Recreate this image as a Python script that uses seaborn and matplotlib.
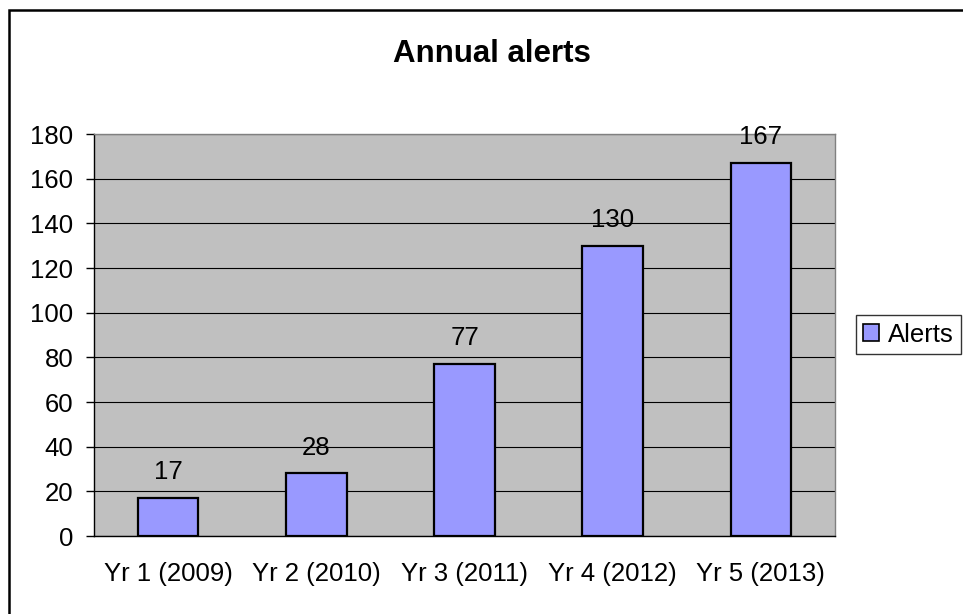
import matplotlib
matplotlib.use("Agg")
import matplotlib.pyplot as plt
from matplotlib.patches import Rectangle, Patch
import seaborn as sns
import pandas as pd

years = ["Yr 1 (2009)", "Yr 2 (2010)", "Yr 3 (2011)", "Yr 4 (2012)", "Yr 5 (2013)"]
alerts = [17, 28, 77, 130, 167]
y_ticks = [0, 20, 40, 60, 80, 100, 120, 140, 160, 180]
series_name = "Alerts"
title = "Annual alerts"

df = pd.DataFrame({"year": years, "alerts": alerts})

sns.set_style("white")
plt.rcParams["font.family"] = ["Liberation Sans", "DejaVu Sans"]
plt.rcParams["text.color"] = "black"
plt.rcParams["xtick.color"] = "black"
plt.rcParams["ytick.color"] = "black"
plt.rcParams["xtick.labelcolor"] = "black"
plt.rcParams["ytick.labelcolor"] = "black"

FS = 18.5

W, H = 963, 614
fig = plt.figure(figsize=(W / 100, H / 100), dpi=100)
ax = fig.add_axes([94 / W, (H - 536) / H, (835 - 94) / W, (536 - 134) / H])

bar_color = "#9999FF"
sns.barplot(data=df, x="year", y="alerts", ax=ax, color=bar_color,
            width=0.41, edgecolor="black", linewidth=1.6, saturation=1,
            zorder=3)

ax.set_facecolor("#C0C0C0")
ax.set_ylim(0, 180)
ax.set_xlim(-0.5, len(years) - 0.5)
ax.set_yticks(y_ticks)
ax.set_yticklabels([str(v) for v in y_ticks], fontsize=FS, color="black")
ax.yaxis.grid(True, color="black", linewidth=0.8, zorder=1)
ax.set_axisbelow(True)

# category labels centred, tick marks on the category boundaries
ax.set_xticks(range(len(years)))
ax.set_xticklabels(years, fontsize=FS, color="black")
ax.tick_params(axis="x", which="major", length=0, pad=19)
ax.set_xticks([i - 0.5 for i in range(len(years) + 1)], minor=True)
ax.tick_params(axis="x", which="minor", length=6, width=1, color="black",
               direction="out")
ax.tick_params(axis="y", length=6, width=1, color="black", direction="out",
               pad=9, left=True)
ax.set_xlabel("")
ax.set_ylabel("")

for side in ("left", "bottom"):
    ax.spines[side].set_color("black")
    ax.spines[side].set_linewidth(1.0)
for side in ("top", "right"):
    ax.spines[side].set_color("#808080")
    ax.spines[side].set_linewidth(1.0)
    ax.spines[side].set_visible(True)

for cont in ax.containers:
    ax.bar_label(cont, labels=[str(v) for v in alerts], padding=10,
                 fontsize=FS, color="black")

fig.text(492 / W, 1 - 54 / H, title, ha="center", va="center",
         fontsize=22.5, fontweight="bold", color="black")

handle = Patch(facecolor=bar_color, edgecolor="black", linewidth=1.2)
leg = ax.legend([handle], [series_name], loc="center left",
                bbox_to_anchor=(856 / W, 1 - 334.5 / H),
                bbox_transform=fig.transFigure, borderaxespad=0,
                fontsize=FS, frameon=True, fancybox=False,
                handlelength=0.6, handleheight=0.6, handletextpad=0.35,
                borderpad=0.28)
leg.get_frame().set_edgecolor("black")
leg.get_frame().set_linewidth(1.0)
leg.get_frame().set_facecolor("white")
for t in leg.get_texts():
    t.set_color("black")

# chart border
fig.patches.append(Rectangle((8.5 / W, -0.1), 1.2, 1.1 - 10 / H,
                             transform=fig.transFigure, fill=False,
                             edgecolor="black", linewidth=1.8))

fig.savefig("out.png", dpi=100)
